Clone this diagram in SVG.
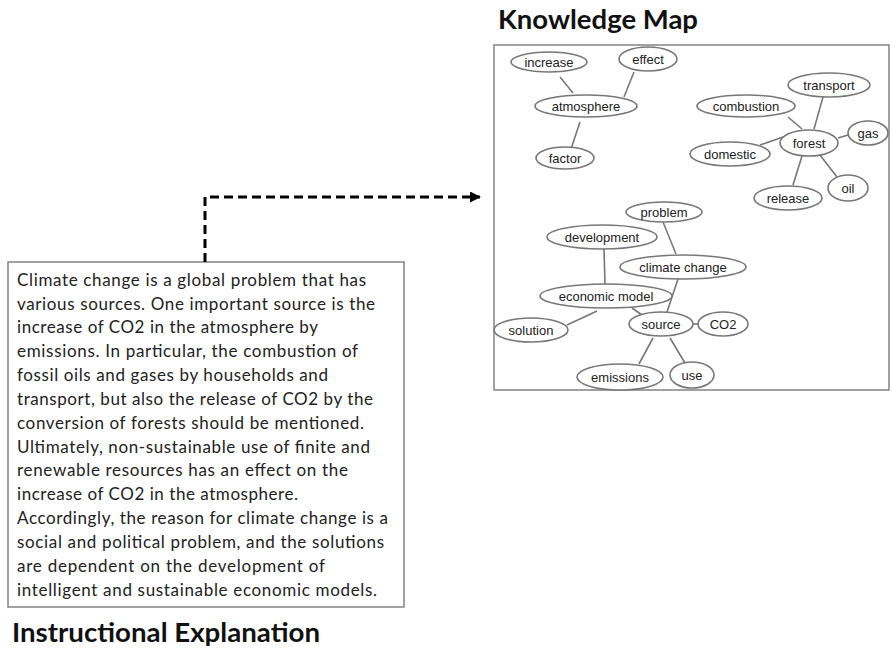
<svg xmlns="http://www.w3.org/2000/svg" width="892" height="652" viewBox="0 0 892 652">
  <style>
    .frame { fill: #ffffff; stroke: #8a8a8a; stroke-width: 1.6; }
    .title { font-family: Lato, "Open Sans", sans-serif; font-weight: bold; font-size: 26px; fill: #111; }
    .body { font-family: Lato, "Open Sans", sans-serif; font-size: 17px; fill: #222; }
    .node ellipse { fill: #ffffff; stroke: #777777; stroke-width: 1.6; }
    .node text { font-family: "Liberation Sans", Arial, sans-serif; font-size: 13px; fill: #222; text-anchor: middle; }
    .links line { stroke: #777777; stroke-width: 1.6; }
    .flow { fill: none; stroke: #000; stroke-width: 3; stroke-dasharray: 9 5; }
  </style>
  <defs>
    <marker id="arrowhead" markerWidth="11" markerHeight="11" refX="10" refY="5.5" orient="auto" markerUnits="userSpaceOnUse">
      <path d="M0,0 L11,5.5 L0,11 Z" fill="#000"/>
    </marker>
  </defs>
  <rect width="892" height="652" fill="#ffffff"/>

  <!-- Explanation text block -->
  <g id="explanation">
    <rect class="frame" x="8" y="262" width="396" height="345"/>
    <text class="body" x="17" y="286" textLength="349" lengthAdjust="spacing">Climate change is a global problem that has</text>
    <text class="body" x="17" y="310" textLength="358" lengthAdjust="spacing">various sources. One important source is the</text>
    <text class="body" x="17" y="333" textLength="301" lengthAdjust="spacing">increase of CO2 in the atmosphere by</text>
    <text class="body" x="17" y="357" textLength="341" lengthAdjust="spacing">emissions. In particular, the combustion of</text>
    <text class="body" x="17" y="381" textLength="311" lengthAdjust="spacing">fossil oils and gases by households and</text>
    <text class="body" x="17" y="405" textLength="356" lengthAdjust="spacing">transport, but also the release of CO2 by the</text>
    <text class="body" x="17" y="429" textLength="347" lengthAdjust="spacing">conversion of forests should be mentioned.</text>
    <text class="body" x="17" y="453" textLength="353" lengthAdjust="spacing">Ultimately, non-sustainable use of finite and</text>
    <text class="body" x="17" y="476" textLength="331" lengthAdjust="spacing">renewable resources has an effect on the</text>
    <text class="body" x="17" y="500" textLength="281" lengthAdjust="spacing">increase of CO2 in the atmosphere.</text>
    <text class="body" x="17" y="524" textLength="371" lengthAdjust="spacing">Accordingly, the reason for climate change is a</text>
    <text class="body" x="17" y="548" textLength="367" lengthAdjust="spacing">social and political problem, and the solutions</text>
    <text class="body" x="17" y="572" textLength="308" lengthAdjust="spacing">are dependent on the development of</text>
    <text class="body" x="17" y="596" textLength="360" lengthAdjust="spacing">intelligent and sustainable economic models.</text>
  </g>
  <text class="title" x="12" y="642" textLength="308" lengthAdjust="spacingAndGlyphs">Instructional Explanation</text>

  <!-- Knowledge map frame -->
  <text class="title" x="498" y="29" textLength="200" lengthAdjust="spacingAndGlyphs">Knowledge Map</text>
  <rect id="map-frame" class="frame" x="494" y="45" width="395" height="345"/>

  <!-- Dashed flow from text to map -->
  <g id="flow">
    <path class="flow" d="M205,262 V197 H480" marker-end="url(#arrowhead)"/>
  </g>

  <!-- Connectors between concepts -->
  <g class="links">
    <line x1="560" y1="77" x2="573" y2="93"/>
    <line x1="634" y1="72" x2="624" y2="97"/>
    <line x1="580" y1="122" x2="571" y2="149"/>
    <line x1="788" y1="117" x2="802" y2="129"/>
    <line x1="823" y1="97" x2="814" y2="129"/>
    <line x1="848" y1="135" x2="838" y2="138"/>
    <line x1="760" y1="145" x2="783" y2="137"/>
    <line x1="793" y1="185" x2="802" y2="156"/>
    <line x1="837" y1="177" x2="820" y2="155"/>
    <line x1="663" y1="222" x2="676" y2="254"/>
    <line x1="604" y1="249" x2="605" y2="284"/>
    <line x1="678" y1="279" x2="667" y2="312"/>
    <line x1="632" y1="308" x2="642" y2="315"/>
    <line x1="597" y1="311" x2="567" y2="325"/>
    <line x1="693" y1="324" x2="698" y2="324"/>
    <line x1="653" y1="338" x2="639" y2="364"/>
    <line x1="670" y1="338" x2="685" y2="363"/>
  </g>

  <!-- Concept nodes -->
  <g id="n-increase" class="node"><ellipse cx="549" cy="62" rx="38" ry="10"/><text x="549" y="66.5">increase</text></g>
  <g id="n-effect" class="node"><ellipse cx="648" cy="59" rx="29" ry="12"/><text x="648" y="63.5">effect</text></g>
  <g id="n-atmosphere" class="node"><ellipse cx="586" cy="106" rx="51" ry="11"/><text x="586" y="110.5">atmosphere</text></g>
  <g id="n-factor" class="node"><ellipse cx="565" cy="158" rx="29" ry="11"/><text x="565" y="162.5">factor</text></g>
  <g id="n-combustion" class="node"><ellipse cx="746" cy="106" rx="49" ry="11"/><text x="746" y="110.5">combustion</text></g>
  <g id="n-transport" class="node"><ellipse cx="829" cy="85" rx="41" ry="12"/><text x="829" y="89.5">transport</text></g>
  <g id="n-forest" class="node"><ellipse cx="809" cy="143" rx="29" ry="13"/><text x="809" y="147.5">forest</text></g>
  <g id="n-gas" class="node"><ellipse cx="868" cy="133" rx="20" ry="12"/><text x="868" y="137.5">gas</text></g>
  <g id="n-domestic" class="node"><ellipse cx="730" cy="154" rx="40" ry="12"/><text x="730" y="158.5">domestic</text></g>
  <g id="n-release" class="node"><ellipse cx="788" cy="198" rx="34" ry="12"/><text x="788" y="202.5">release</text></g>
  <g id="n-oil" class="node"><ellipse cx="848" cy="188" rx="20" ry="13"/><text x="848" y="192.5">oil</text></g>
  <g id="n-problem" class="node"><ellipse cx="664" cy="212" rx="38" ry="10"/><text x="664" y="216.5">problem</text></g>
  <g id="n-development" class="node"><ellipse cx="602" cy="237" rx="55" ry="12"/><text x="602" y="241.5">development</text></g>
  <g id="n-climate-change" class="node"><ellipse cx="683" cy="267" rx="63" ry="12"/><text x="683" y="271.5">climate change</text></g>
  <g id="n-economic-model" class="node"><ellipse cx="606" cy="296" rx="66" ry="12"/><text x="606" y="300.5">economic model</text></g>
  <g id="n-solution" class="node"><ellipse cx="531" cy="330" rx="37" ry="12"/><text x="531" y="334.5">solution</text></g>
  <g id="n-source" class="node"><ellipse cx="661" cy="324" rx="32" ry="12"/><text x="661" y="328.5">source</text></g>
  <g id="n-co2" class="node"><ellipse cx="723" cy="324" rx="25" ry="12"/><text x="723" y="328.5">CO2</text></g>
  <g id="n-emissions" class="node"><ellipse cx="620" cy="377" rx="43" ry="13"/><text x="620" y="381.5">emissions</text></g>
  <g id="n-use" class="node"><ellipse cx="692" cy="375" rx="22" ry="13"/><text x="692" y="379.5">use</text></g>
</svg>
